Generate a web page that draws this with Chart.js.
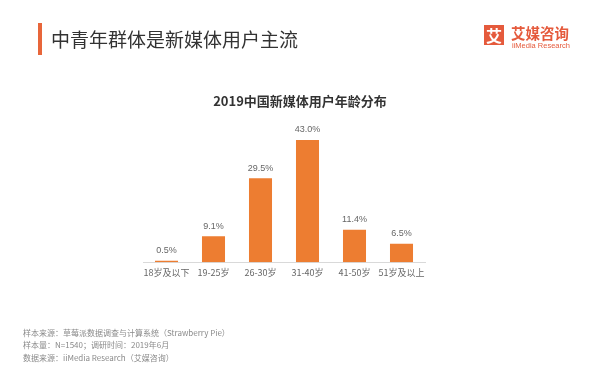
<!DOCTYPE html>
<html>
<head>
<meta charset="utf-8">
<script src="https://cdn.jsdelivr.net/npm/chart.js@4/dist/chart.umd.min.js"></script>
<style>
  body { margin: 0; background: #fff; font-family: "Noto Sans CJK SC", "Noto Sans", sans-serif; }
  #wrap { position: relative; width: 600px; height: 365px; overflow: hidden; }
  #c { position: absolute; left: 0; top: 0; }
  .bar { position: absolute; left: 38px; top: 23px; width: 4px; height: 32px; background: #e8663a; }
  .head { position: absolute; left: 51px; top: 26px; font-size: 19px; line-height: 26px; color: #333; letter-spacing: 0px; }
  .logo { position: absolute; left: 484px; top: 25px; width: 20px; height: 20px; background: #e55a3c; color: #fff;
          font-size: 16px; font-weight: bold; line-height: 20px; text-align: center; }
  .logo1 { position: absolute; left: 511px; top: 24px; font-size: 14.5px; line-height: 18px; font-weight: bold; color: #e55a3c; }
  .logo2 { position: absolute; left: 512px; top: 41px; font-size: 7.5px; line-height: 9px; color: #e55a3c; font-family: "Liberation Sans", sans-serif; }
  .ctitle { position: absolute; left: 0; width: 600px; top: 92px; text-align: center; font-size: 13px; font-weight: bold; line-height: 18px; color: #333; }
  .foot { position: absolute; left: 23px; font-size: 8px; line-height: 10px; color: #8a8a8a; }
</style>
</head>
<body>
<div id="wrap">
  <canvas id="c" width="600" height="365"></canvas>
  <div class="bar"></div>
  <div class="head">中青年群体是新媒体用户主流</div>
  <div class="logo">艾</div>
  <div class="logo1">艾媒咨询</div>
  <div class="logo2">iiMedia Research</div>
  <div class="ctitle">2019中国新媒体用户年龄分布</div>
  <div class="foot" style="top:328px">样本来源：草莓派数据调查与计算系统（Strawberry Pie）</div>
  <div class="foot" style="top:340px">样本量：N=1540；调研时间：2019年6月</div>
  <div class="foot" style="top:353px">数据来源：iiMedia Research（艾媒咨询）</div>
</div>
<script>
var ageGroups = ['18岁及以下', '19-25岁', '26-30岁', '31-40岁', '41-50岁', '51岁及以上'];
var userShare = [0.5, 9.1, 29.5, 43.0, 11.4, 6.5];

// value labels above bars
var valueLabels = {
    id: 'valueLabels',
    afterDatasetsDraw: function (chart) {
        var ctx = chart.ctx;
        var meta = chart.getDatasetMeta(0);
        ctx.save();
        ctx.font = '9px "Liberation Sans", "Noto Sans", sans-serif';
        ctx.fillStyle = '#666';
        ctx.textAlign = 'center';
        ctx.textBaseline = 'middle';
        meta.data.forEach(function (bar, i) {
            ctx.fillText(userShare[i].toFixed(1) + '%', bar.x, bar.y - 10);
        });
        ctx.restore();
    }
};

new Chart(document.getElementById('c').getContext('2d'), {
    type: 'bar',
    data: {
        labels: ageGroups,
        datasets: [{
            data: userShare,
            backgroundColor: '#ed7d31',
            barPercentage: 0.49,
            categoryPercentage: 1.0
        }]
    },
    options: {
        responsive: false,
        animation: false,
        layout: { padding: { left: 143, right: 175, top: 120, bottom: 82 } },
        plugins: { legend: { display: false }, tooltip: { enabled: false } },
        scales: {
            x: {
                grid: { display: false, drawTicks: false },
                border: { display: true, color: '#d9d9d9', width: 1 },
                ticks: {
                    color: '#666',
                    padding: 5,
                    maxRotation: 0,
                    autoSkip: false,
                    font: { size: 9, family: '"Noto Sans CJK SC", sans-serif' }
                }
            },
            y: { display: false, min: 0, max: 50 }
        }
    },
    plugins: [valueLabels]
});
</script>
</body>
</html>
